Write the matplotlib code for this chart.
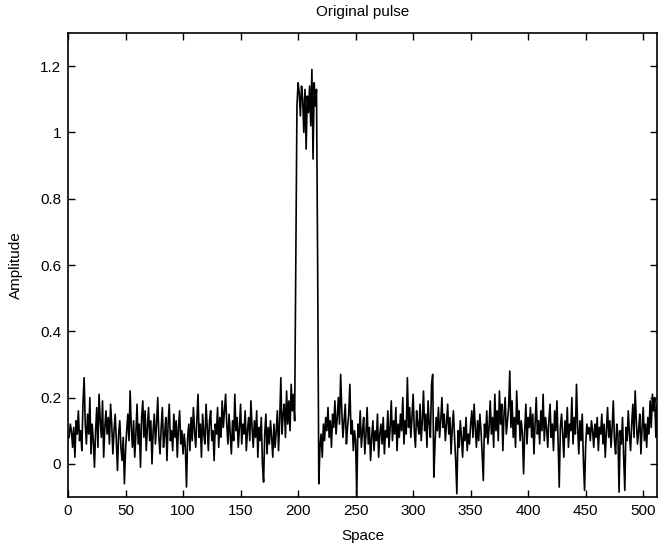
import matplotlib
matplotlib.use('Agg')
import matplotlib.pyplot as plt
import numpy as np

plt.rcParams['font.family'] = ['Liberation Sans', 'DejaVu Sans']

# amplitude per sample (512 samples)
amplitude = [
    0.08, 0.12, 0.10, 0.05, 0.11, 0.02, 0.13, 0.09, 0.16, 0.07, 0.10, 0.04, 0.18, 0.26, 0.12, 0.06,
    0.15, 0.09, 0.20, 0.03, 0.12, 0.07, -0.01, 0.10, 0.17, 0.05, 0.21, 0.13, 0.08, 0.19, 0.02, 0.11,
    0.16, 0.09, 0.14, 0.06, 0.18, 0.12, 0.03, 0.10, 0.15, 0.07, -0.02, 0.09, 0.13, 0.05, 0.01, 0.08,
    -0.06, 0.04, 0.10, 0.15, 0.07, 0.22, 0.11, 0.05, 0.13, 0.02, 0.09, 0.18, 0.06, 0.12, -0.01, 0.14,
    0.19, 0.08, 0.16, 0.04, 0.11, 0.17, 0.07, 0.13, 0.00, 0.10, 0.15, 0.06, 0.12, 0.20, 0.08, 0.03,
    0.11, 0.17, 0.05, 0.09, 0.14, 0.01, 0.12, 0.18, 0.07, 0.10, 0.04, 0.15, 0.08, 0.13, 0.02, 0.11,
    0.16, 0.06, 0.10, 0.03, 0.09, 0.05, -0.07, 0.08, 0.12, 0.04, 0.14, 0.07, 0.17, 0.10, 0.05, 0.13,
    0.21, 0.08, 0.12, 0.02, 0.15, 0.09, 0.06, 0.18, 0.11, 0.04, 0.13, 0.16, 0.07, 0.10, 0.01, 0.12,
    0.09, 0.17, 0.05, 0.14, 0.08, 0.19, 0.11, 0.16, 0.21, 0.12, 0.06, 0.15, 0.09, 0.03, 0.13, 0.07,
    0.21, 0.10, 0.14, 0.05, 0.11, 0.18, 0.06, 0.12, 0.09, 0.16, 0.04, 0.10, 0.14, 0.07, 0.19, 0.11,
    0.05, 0.13, 0.08, 0.16, 0.02, 0.11, 0.07, 0.14, 0.00, -0.055, 0.09, 0.15, 0.03, 0.11, 0.06, 0.13,
    0.08, 0.02, 0.12, 0.05, 0.10, 0.16, 0.04, 0.13, 0.26, 0.09, 0.15, 0.18, 0.08, 0.22, 0.12, 0.19,
    0.10, 0.24, 0.16, 0.21, 0.13, 0.60, 1.08, 1.15, 1.12, 1.05, 1.14, 1.10, 1.00, 1.13, 0.95, 1.11,
    1.06, 1.14, 1.02, 1.19, 0.92, 1.15, 1.08, 1.13, 0.60, -0.06, 0.05, 0.09, 0.02, 0.12, 0.07, 0.14,
    0.10, 0.17, 0.08, 0.13, 0.05, 0.15, 0.11, 0.19, 0.09, 0.14, 0.20, 0.12, 0.27, 0.16, 0.08, 0.13,
    0.18, 0.06, 0.11, 0.15, 0.24, 0.09, 0.13, 0.04, 0.10, 0.07, -0.10, 0.12, 0.08, 0.16, 0.05, 0.10,
    0.14, 0.03, 0.09, 0.17, 0.06, 0.11, 0.01, 0.08, 0.13, 0.04, 0.10, 0.07, 0.15, 0.02, 0.09, 0.12,
    0.06, 0.14, 0.03, 0.10, 0.08, 0.16, 0.05, 0.11, 0.19, 0.07, 0.13, 0.09, 0.17, 0.04, 0.12, 0.08,
    0.15, 0.10, 0.20, 0.06, 0.13, 0.09, 0.26, 0.11, 0.17, 0.08, 0.14, 0.21, 0.10, 0.05, 0.16, 0.12,
    0.09, 0.18, 0.07, 0.13, 0.22, 0.10, 0.15, 0.05, 0.19, 0.12, 0.08, 0.24, 0.27, -0.04, 0.06, 0.14,
    0.10, 0.17, 0.08, 0.13, 0.20, 0.11, 0.15, 0.07, 0.12, 0.18, 0.09, 0.14, 0.03, 0.11, 0.16, 0.08,
    0.01, -0.09, 0.10, 0.05, 0.13, 0.08, 0.02, 0.11, 0.07, 0.14, 0.04, 0.09, 0.06, 0.12, 0.16, 0.08,
    0.18, 0.11, 0.05, 0.13, 0.07, 0.15, 0.10, 0.03, -0.05, 0.12, 0.08, 0.16, 0.06, 0.11, 0.19, 0.09,
    0.14, 0.05, 0.21, 0.10, 0.16, 0.07, 0.22, 0.12, 0.18, 0.04, 0.15, 0.20, 0.09, 0.13, 0.17, 0.28,
    0.11, 0.19, 0.08, 0.14, 0.05, 0.22, 0.12, 0.16, 0.07, 0.13, 0.09, -0.03, 0.10, 0.18, 0.06, 0.14,
    0.11, 0.17, 0.08, 0.15, 0.03, 0.12, 0.20, 0.09, 0.13, 0.06, 0.16, 0.10, 0.21, 0.07, 0.14, 0.11,
    0.05, 0.13, 0.18, 0.08, 0.12, 0.04, 0.16, 0.10, 0.19, 0.07, -0.07, 0.11, 0.15, 0.09, 0.02, 0.13,
    0.08, 0.17, 0.05, 0.12, 0.10, 0.20, 0.06, 0.14, 0.09, 0.24, 0.11, 0.03, 0.13, 0.07, 0.15, 0.01,
    -0.08, 0.06, 0.12, 0.09, 0.11, 0.07, 0.13, 0.10, 0.05, 0.12, 0.08, 0.14, 0.04, 0.11, 0.09, 0.15,
    0.06, 0.12, 0.02, 0.10, 0.17, 0.08, 0.13, 0.05, 0.11, 0.19, 0.07, 0.03, 0.12, 0.09, -0.085, 0.10,
    0.06, 0.14, 0.02, -0.08, 0.11, 0.07, 0.16, 0.09, 0.04, 0.12, 0.18, 0.08, 0.22, 0.13, 0.06, 0.10,
    0.15, 0.03, 0.11, 0.17, 0.07, 0.12, 0.05, 0.14, 0.09, 0.19, 0.11, 0.21, 0.16, 0.20, 0.08, 0.18,
]
space = np.arange(1, len(amplitude) + 1)

x_ticks = [0, 50, 100, 150, 200, 250, 300, 350, 400, 450, 500]
y_ticks = [0, 0.2, 0.4, 0.6, 0.8, 1, 1.2]
y_tick_labels = ['0', '0.2', '0.4', '0.6', '0.8', '1', '1.2']

fig = plt.figure(figsize=(6.59, 5.51), dpi=100)
ax = fig.add_axes([0.1032, 0.098, 0.8938, 0.842])
ax.plot(space, amplitude, color='black', linewidth=1.2)

ax.set_xlim(0, 512)
ax.set_ylim(-0.1, 1.3)
ax.set_xticks(x_ticks)
ax.set_yticks(y_ticks)
ax.set_yticklabels(y_tick_labels)
ax.tick_params(direction='in', top=True, right=True, length=5, width=1.0,
               labelsize=11, pad=5)
for spine in ax.spines.values():
    spine.set_linewidth(1.2)

ax.set_title('Original pulse', fontsize=11, pad=12)
ax.set_xlabel('Space', fontsize=11, labelpad=8)
ax.set_ylabel('Amplitude', fontsize=11, labelpad=12)

fig.savefig('out.png', dpi=100)
